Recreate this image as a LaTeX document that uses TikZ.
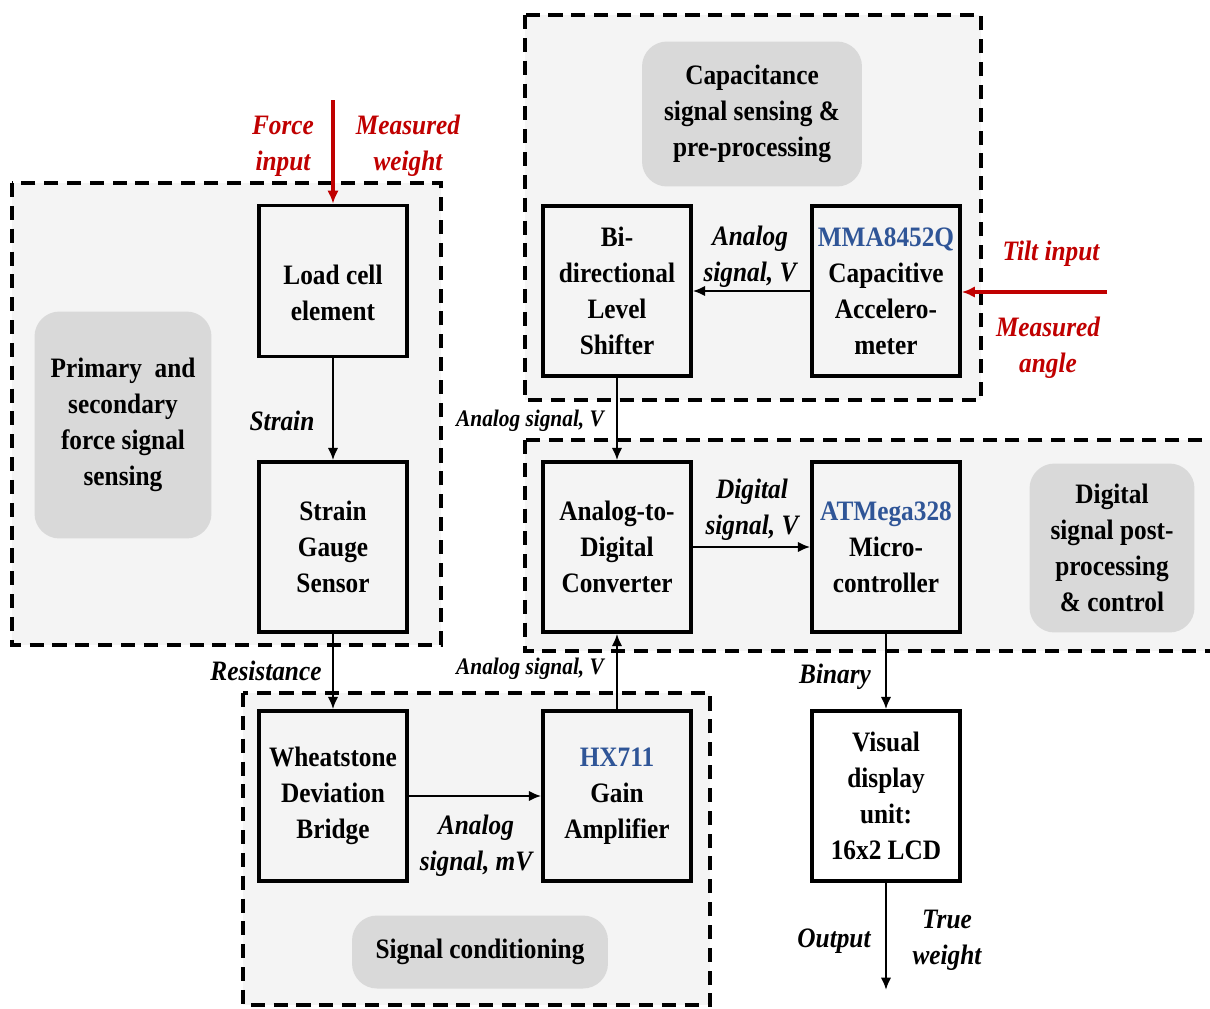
\documentclass[tikz,border=0pt]{standalone}
\usepackage{fontspec}
\setmainfont{Liberation Serif}[FakeStretch=0.9]
\usetikzlibrary{positioning,arrows.meta}
\definecolor{regionfill}{HTML}{F4F4F4}
\definecolor{tagfill}{HTML}{D9D9D9}
\definecolor{partblue}{HTML}{2F5597}
\definecolor{inred}{HTML}{C00000}
\newcommand{\bigtxt}{\fontsize{16}{20.5}\selectfont}
\newcommand{\midtxt}{\fontsize{13.5}{17}\selectfont}

\begin{document}
\begin{tikzpicture}[x=0.02cm, y=-0.02cm,
    block/.style={draw, line width=2pt, minimum width=2.96cm, minimum height=3.4cm, align=center, font=\bfseries\bigtxt, inner sep=2pt},
    tag/.style={fill=tagfill, rounded corners=0.5cm, align=center, font=\bfseries\bigtxt},
    region/.style={draw, dash pattern=on 8pt off 5pt, line width=2pt, fill=regionfill},
    sig/.style={font=\bfseries\itshape\bigtxt, align=center, inner sep=0pt},
    flow/.style={-{Latex[length=7pt,width=6pt]}, line width=1.5pt},
    inflow/.style={draw=inred, line width=1.8pt, -{Latex[length=7.5pt,width=6.5pt,fill=inred]}}
]
        \clip (0,0) rectangle (1210,1008);

        % Dashed stage regions
        \draw[region] (12,183) rectangle (441,645);
        \draw[region] (525,15) rectangle (981,400);
        \draw[region] (525,440) rectangle (1235,651);
        \draw[region] (243,693) rectangle (710,1005);

        % Stage names
        \node[tag, minimum width=3.54cm, minimum height=4.54cm] (primarytag) at (123,425) {Primary~~and\\secondary\\force signal\\sensing};
        \node[tag, minimum width=4.4cm, minimum height=2.9cm] (captag) at (752,114) {Capacitance\\signal sensing \&\\pre-processing};
        \node[tag, minimum width=3.3cm, minimum height=3.38cm] (digitaltag) at (1112,548) {Digital\\signal post-\\processing\\\& control};
        \node[tag, minimum width=5.12cm, minimum height=1.46cm] (condtag) at (480,952) {Signal conditioning};

        % Blocks
        \node[block, minimum height=3.02cm] (loadcell) at (333,281) {\rule{0pt}{25pt}Load cell\\element};
        \node[block] (straingauge) at (333,547) {Strain\\Gauge\\Sensor};
        \node[block] (wheatstone) at (333,796) {Wheatstone\\Deviation\\Bridge};
        \node[block] (hxamp) at (617,796) {{\color{partblue}HX711}\\Gain\\Amplifier};
        \node[block] (shifter) at (617,291) {Bi-\\directional\\Level\\Shifter};
        \node[block] (accel) at (886,291) {{\color{partblue}MMA8452Q}\\Capacitive\\Accelero-\\meter};
        \node[block] (adc) at (617,547) {Analog-to-\\Digital\\Converter};
        \node[block] (mcu) at (886,547) {{\color{partblue}ATMega328}\\Micro-\\controller};
        \node[block] (lcd) at (886,796) {Visual\\display\\unit:\\16x2 LCD};

        % Free ends
        \coordinate (forcein) at (333,100);
        \coordinate (tiltin) at (1107,292);
        \coordinate (outend) at (886,990);

        % Signal flow
        \draw[inflow] (forcein) -- (loadcell.north);
        \draw[inflow] (tiltin) -- (accel.east |- tiltin);
        \draw[flow] (loadcell) -- (straingauge);
        \draw[flow] (straingauge) -- (wheatstone);
        \draw[flow] (wheatstone) -- (hxamp);
        \draw[flow] (hxamp) -- (adc);
        \draw[flow] (accel) -- (shifter);
        \draw[flow] (shifter) -- (adc);
        \draw[flow] (adc) -- (mcu);
        \draw[flow] (mcu) -- (lcd);
        \draw[flow] (lcd) -- (outend);

        % Labels
        \node[sig, text=inred] (forcelbl) at (283,146) {Force\\input};
        \node[sig, text=inred] (weightlbl) at (408,146) {Measured\\weight};
        \node[sig, text=inred] (tiltlbl) at (1051,254) {Tilt input};
        \node[sig, text=inred] (anglelbl) at (1048,348) {Measured\\angle};
        \node[sig] (strainlbl) at (282,421) {Strain};
        \node[sig] (resistlbl) at (266,671) {Resistance};
        \node[sig, font=\bfseries\itshape\midtxt] (shiftedlbl) at (530,421) {Analog signal, V};
        \node[sig, font=\bfseries\itshape\midtxt] (amplifiedlbl) at (530,669) {Analog signal, V};
        \node[sig] (accellbl) at (750,257) {Analog\\signal, V};
        \node[sig] (digitallbl) at (752,510) {Digital\\signal, V};
        \node[sig] (bridgelbl) at (476,846) {Analog\\signal, mV};
        \node[sig] (binarylbl) at (835,677) {Binary};
        \node[sig] (outputlbl) at (834,941) {Output};
        \node[sig] (truelbl) at (947,940) {True\\weight};
    \end{tikzpicture}
\end{document}
